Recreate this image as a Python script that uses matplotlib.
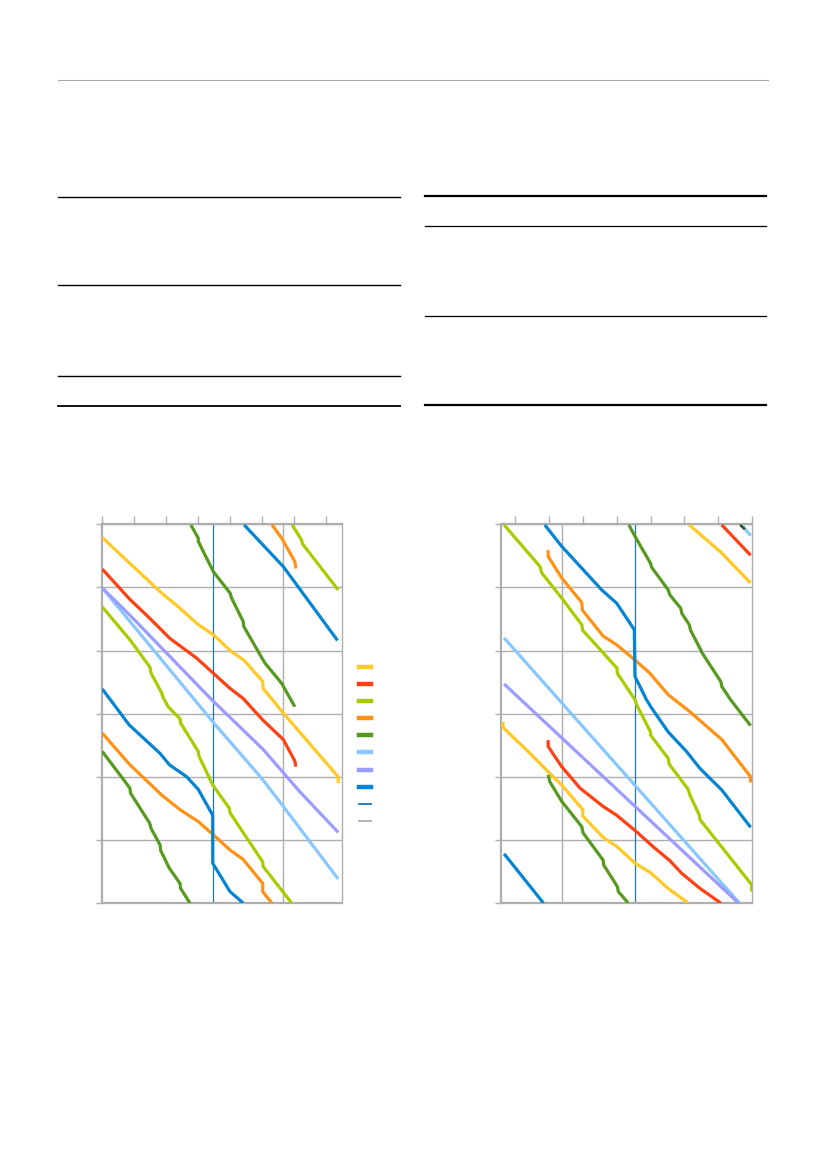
import numpy as np
import matplotlib.pyplot as plt
from matplotlib.lines import Line2D

# series colours (legend order)
colors = ["#FFC926", "#FF4013", "#A8CC00", "#FF9214", "#559A1E",
          "#88C8FF", "#9C9CFF", "#0584D2"]
now_color = "#1B75BB"
grid_color = "#AEAEAE"
stub_color = "#34501A"

# ---- left panel: segments per series, (x, y) pairs
left_yellow = [[(0.02, 5.79), (0.88, 5.38), (1.87, 4.91), (2.44, 4.67), (3.01, 4.41),
                (3.48, 4.25), (4.05, 3.98), (4.43, 3.85), (5.02, 3.51), (5.03, 3.40),
                (5.66, 3.01), (7.37, 2.00), (7.37, 1.90)]]
left_red = [[(0.02, 5.29), (0.88, 4.81), (1.50, 4.51), (2.13, 4.19), (2.96, 3.88),
             (3.48, 3.64), (4.00, 3.40), (4.41, 3.24), (5.02, 2.90), (5.66, 2.59),
             (6.02, 2.25), (6.05, 2.16)]]
left_ygreen = [[(5.94, 5.99), (6.23, 5.75), (6.26, 5.69), (7.37, 4.96)],
               [(0.02, 4.69), (0.88, 4.17), (1.50, 3.74), (1.54, 3.64), (1.87, 3.33),
                (1.90, 3.27), (2.07, 3.11), (2.44, 2.92), (2.46, 2.85), (3.01, 2.40),
                (3.03, 2.33), (3.46, 1.87), (3.98, 1.50), (4.00, 1.43), (5.02, 0.65),
                (5.03, 0.58), (5.92, 0.00)]]
left_orange = [[(5.31, 5.99), (5.61, 5.78), (6.02, 5.41), (6.05, 5.30)],
               [(0.02, 2.69), (0.88, 2.19), (1.87, 1.71), (2.44, 1.48), (3.01, 1.29),
                (3.48, 1.08), (4.00, 0.84), (4.41, 0.69), (5.02, 0.31), (5.02, 0.18),
                (5.30, 0.00)]]
left_dgreen = [[(2.78, 5.99), (3.01, 5.78), (3.01, 5.73), (3.48, 5.25), (4.00, 4.91),
                (4.05, 4.83), (4.41, 4.46), (4.43, 4.38), (5.03, 3.85), (5.09, 3.80),
                (5.61, 3.48), (6.02, 3.11)],
               [(0.02, 2.40), (0.88, 1.82), (0.90, 1.74), (1.50, 1.26), (1.54, 1.18),
                (1.82, 0.92), (1.84, 0.83), (2.11, 0.55), (2.44, 0.31), (2.46, 0.23),
                (2.75, 0.00)]]
left_lblue = [[(0.02, 4.99), (3.48, 2.86), (4.98, 1.98), (5.66, 1.53), (7.37, 0.38)]]
left_lavender = [[(0.02, 4.99), (0.88, 4.56), (3.43, 3.22), (5.02, 2.44), (6.18, 1.76),
                  (7.37, 1.12)]]
left_blue = [[(4.44, 5.99), (5.66, 5.33), (7.35, 4.16)],
             [(0.02, 3.39), (0.86, 2.82), (1.82, 2.37), (2.11, 2.19), (2.65, 2.00),
              (3.01, 1.80), (3.46, 1.39), (3.46, 0.63), (4.00, 0.18), (4.41, 0.00)]]

# ---- right panel
right_yellow = [[(5.14, 5.99), (6.05, 5.57), (6.95, 5.07)],
                [(-0.35, 2.87), (-0.35, 2.78), (0.35, 2.42), (0.98, 2.08), (1.38, 1.87),
                 (2.00, 1.48), (2.00, 1.38), (2.60, 1.04), (3.02, 0.89), (3.54, 0.63),
                 (4.00, 0.48), (4.52, 0.23), (5.11, 0.00)]]
right_red = [[(6.10, 5.99), (6.95, 5.51)],
             [(0.98, 2.58), (0.98, 2.48), (1.38, 2.16), (1.92, 1.82), (2.60, 1.53),
              (3.00, 1.39), (3.54, 1.15), (4.08, 0.89), (4.57, 0.67), (4.92, 0.47),
              (5.46, 0.23), (6.07, 0.00)]]
right_ygreen = [[(-0.32, 5.99), (0.74, 5.33), (0.79, 5.23), (1.38, 4.83), (1.97, 4.41),
                 (2.00, 4.32), (3.01, 3.72), (3.02, 3.64), (3.54, 3.22), (3.59, 3.14),
                 (4.00, 2.71), (4.00, 2.66), (4.52, 2.29), (4.55, 2.20), (5.11, 1.80),
                 (5.16, 1.71), (5.44, 1.39), (5.46, 1.32), (6.98, 0.29), (6.98, 0.18)]]
right_orange = [[(0.98, 5.59), (0.98, 5.49), (1.38, 5.15), (1.97, 4.76), (1.99, 4.64),
                 (2.60, 4.23), (3.00, 4.09), (3.54, 3.85), (3.98, 3.64), (4.52, 3.30),
                 (5.16, 3.03), (6.10, 2.59), (6.95, 2.00), (6.95, 1.91)]]
right_dgreen = [[(3.36, 5.99), (3.54, 5.81), (4.00, 5.38), (4.03, 5.32), (4.52, 4.96),
                 (4.57, 4.88), (4.89, 4.67), (4.92, 4.59), (5.14, 4.41), (5.18, 4.32),
                 (5.48, 4.01), (5.51, 3.97), (6.07, 3.51), (6.10, 3.43), (6.36, 3.22),
                 (6.95, 2.81)],
                [(0.98, 2.03), (1.03, 1.92), (1.38, 1.61), (1.97, 1.21), (2.01, 1.11),
                 (2.60, 0.68), (2.62, 0.60), (3.02, 0.26), (3.05, 0.18), (3.34, 0.00)]]
right_lblue = [[(6.69, 5.99), (6.95, 5.82)],
               [(-0.32, 4.20), (6.62, 0.00)]]
right_lavender = [[(-0.32, 3.47), (6.59, 0.00)]]
right_blue = [[(0.88, 5.99), (1.38, 5.65), (2.56, 4.96), (3.00, 4.75), (3.52, 4.33),
               (3.54, 3.59), (3.88, 3.22), (4.03, 3.09), (4.52, 2.71), (5.06, 2.40),
               (5.46, 2.13), (6.10, 1.79), (6.95, 1.20)],
              [(-0.32, 0.78), (0.84, 0.00)]]
# short dark stub in the right panel's top-right corner
right_stub = [(6.64, 5.99), (6.78, 5.92)]

left_series = [left_yellow, left_red, left_ygreen, left_orange, left_dgreen,
               left_lblue, left_lavender, left_blue]
right_series = [right_yellow, right_red, right_ygreen, right_orange, right_dgreen,
                right_lblue, right_lavender, right_blue]

left_xlim, left_grid_x, left_now = (0, 7.49), 5.66, 3.48
right_xlim, right_grid_x, right_now = (-0.42, 7.0), 1.38, 3.54
top_ticks = list(range(0, 8))
y_ticks = list(range(0, 7))

fig = plt.figure(figsize=(8.26, 11.69), dpi=100)


def panel(rect, series, xlim, grid_x, now_x):
    ax = fig.add_axes(rect)
    ax.set_xlim(*xlim)
    ax.set_ylim(0, 6)
    ax.set_yticks(y_ticks)
    ax.set_xticks([grid_x])
    ax.set_xticklabels([])
    ax.set_yticklabels([])
    ax.grid(True, color=grid_color, lw=1.0)
    ax.set_axisbelow(True)
    ax.tick_params(axis="y", direction="out", length=4, color=grid_color, width=1)
    ax.tick_params(axis="x", length=0)
    ax.spines["right"].set_color(grid_color)
    ax.spines["right"].set_linewidth(1.0)
    for s in ["left", "top", "bottom"]:
        ax.spines[s].set_color(grid_color)
        ax.spines[s].set_linewidth(1.6)
    ax.axvline(now_x, color=now_color, lw=0.9, zorder=2)
    for segs, c in zip(series, colors):
        for seg in segs:
            xs, ys = zip(*seg)
            ax.plot(xs, ys, color=c, lw=2.3, solid_capstyle="butt",
                    solid_joinstyle="miter", zorder=3)
    top = ax.twiny()
    top.set_xlim(*xlim)
    top.set_xticks(top_ticks)
    top.set_xticklabels([])
    top.tick_params(axis="x", direction="out", length=6, color=grid_color, width=1)
    for s in top.spines.values():
        s.set_visible(False)
    return ax


axL = panel([101.7 / 826, 1 - 903 / 1169, 240.3 / 826, 378.7 / 1169],
            left_series, left_xlim, left_grid_x, left_now)
axR = panel([500.7 / 826, 1 - 903 / 1169, 251.6 / 826, 378.7 / 1169],
            right_series, right_xlim, right_grid_x, right_now)
sx, sy = zip(*right_stub)
axR.plot(sx, sy, color=stub_color, lw=1.8, solid_capstyle="butt", zorder=4)

# legend (labels were empty in the source)
handles = [Line2D([], [], color=c, lw=3.2) for c in colors]
handles += [Line2D([], [], color=now_color, lw=1.3), Line2D([], [], color=grid_color, lw=1.3)]
axL.legend(handles, [" "] * len(handles), loc="upper left",
           bbox_to_anchor=(351 / 826, 1 - 655 / 1169), bbox_transform=fig.transFigure,
           frameon=False, fontsize=8, handlelength=1.1, handletextpad=0.2,
           labelspacing=0.64, borderpad=0.2)

# page rules
def rule(x0, x1, y, lw, color="black"):
    fig.add_artist(Line2D([x0 / 826, x1 / 826], [1 - y / 1169, 1 - y / 1169],
                          color=color, lw=lw, transform=fig.transFigure))

rule(58, 768, 80, 0.8, "#A8A8A8")
rule(58, 400, 197, 1.0)
rule(58, 400, 285, 1.0)
rule(58, 400, 376, 1.0)
rule(58, 400, 406, 1.3)
rule(425, 766, 196, 1.6)
rule(425, 766, 226, 0.9)
rule(425, 766, 316, 0.9)
rule(425, 766, 405, 1.6)

fig.savefig("out.png", dpi=100)
